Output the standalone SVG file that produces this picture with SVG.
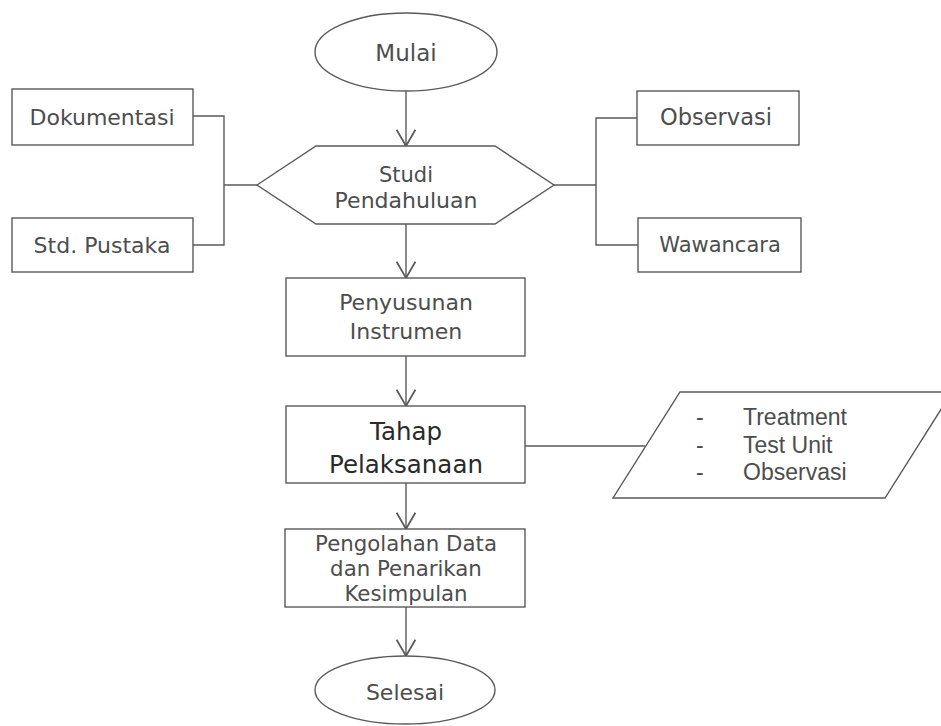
<svg xmlns="http://www.w3.org/2000/svg" width="941" height="726" viewBox="0 0 941 726">
<defs>
<style>
.s{fill:#fff;stroke:#5a5a5a;stroke-width:1.4}
.c{fill:none;stroke:#5a5a5a;stroke-width:1.4}
.t{font-family:"DejaVu Sans",sans-serif;fill:#4d4d4d;text-anchor:middle}
.l{font-family:"Liberation Sans",sans-serif;fill:#4d4d4d;font-size:23px}
</style>
<marker id="a" markerUnits="userSpaceOnUse" markerWidth="20" markerHeight="20" refX="14" refY="8" orient="auto" viewBox="0 0 16 16">
<path d="M1,0.5 L14,8 L1,15.5" fill="none" stroke="#5a5a5a" stroke-width="1.4"/>
</marker>
</defs>
<rect width="941" height="726" fill="#fff"/>
<g id="connectors">
<line class="c" x1="406" y1="91" x2="406" y2="146" marker-end="url(#a)"/>
<line class="c" x1="406" y1="224" x2="406" y2="278" marker-end="url(#a)"/>
<line class="c" x1="406" y1="356" x2="406" y2="406" marker-end="url(#a)"/>
<line class="c" x1="406" y1="483" x2="406" y2="529" marker-end="url(#a)"/>
<line class="c" x1="406" y1="607" x2="406" y2="656" marker-end="url(#a)"/>
<polyline class="c" points="193,116 224,116 224,245 193,245"/>
<line class="c" x1="224" y1="185" x2="257" y2="185" stroke-width="2.4"/>
<line class="c" x1="554" y1="185" x2="596" y2="185"/>
<polyline class="c" points="637,118 596,118 596,245 638,245"/>
<line class="c" x1="525" y1="446" x2="645" y2="446"/>
</g>
<g id="mulai">
<ellipse class="s" cx="406" cy="52" rx="91" ry="39"/>
<text class="t" x="406" y="61" font-size="23">Mulai</text>
</g>
<g id="dokumentasi">
<rect class="s" x="12" y="89" width="181" height="56"/>
<text class="t" x="102" y="125" font-size="22">Dokumentasi</text>
</g>
<g id="std-pustaka">
<rect class="s" x="12" y="218" width="181" height="54"/>
<text class="t" x="102" y="253" font-size="22">Std. Pustaka</text>
</g>
<g id="studi">
<polygon class="s" points="257,185 316,146 495,146 554,185 495,224 316,224"/>
<text class="t" x="406" y="182" font-size="21">Studi</text>
<text class="t" x="406" y="208" font-size="22">Pendahuluan</text>
</g>
<g id="observasi">
<rect class="s" x="637" y="91" width="162" height="54"/>
<text class="t" x="716" y="125" font-size="22.5">Observasi</text>
</g>
<g id="wawancara">
<rect class="s" x="638" y="218" width="163" height="54"/>
<text class="t" x="720" y="252" font-size="21">Wawancara</text>
</g>
<g id="penyusunan">
<rect class="s" x="286" y="278" width="239" height="78"/>
<text class="t" x="406" y="310" font-size="22">Penyusunan</text>
<text class="t" x="406" y="339" font-size="22">Instrumen</text>
</g>
<g id="tahap">
<rect class="s" x="286" y="406" width="239" height="77" stroke-width="1.8"/>
<text class="t" x="406" y="440" font-size="24.5" fill="#2a2a2a" style="fill:#2a2a2a">Tahap</text>
<text class="t" x="406" y="473" font-size="24.5" style="fill:#2a2a2a">Pelaksanaan</text>
</g>
<g id="list">
<polygon class="s" points="680,392 952,392 885,498 613,498"/>
<text class="l" x="696" y="425">-</text>
<text class="l" x="743" y="425">Treatment</text>
<text class="l" x="696" y="453">-</text>
<text class="l" x="743" y="453">Test Unit</text>
<text class="l" x="696" y="480">-</text>
<text class="l" x="743" y="480">Observasi</text>
</g>
<g id="pengolahan">
<rect class="s" x="285" y="529" width="240" height="78"/>
<text class="t" x="406" y="551" font-size="21.3">Pengolahan Data</text>
<text class="t" x="406" y="576" font-size="21.3">dan Penarikan</text>
<text class="t" x="406" y="601" font-size="21.3">Kesimpulan</text>
</g>
<g id="selesai">
<ellipse class="s" cx="405" cy="690" rx="90" ry="34"/>
<text class="t" x="405" y="700" font-size="22">Selesai</text>
</g>
</svg>
